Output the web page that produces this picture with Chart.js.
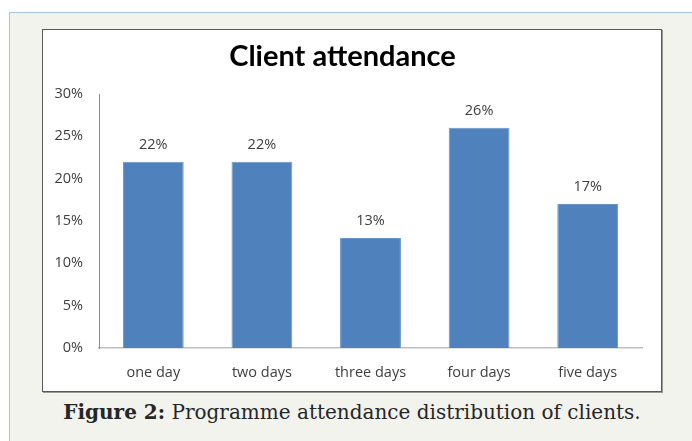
<!DOCTYPE html>
<html>
<head>
<meta charset="utf-8">
<script src="https://cdn.jsdelivr.net/npm/chart.js@4"></script>
<style>
  html, body { margin: 0; padding: 0; background: #fff; }
  body { width: 692px; height: 441px; position: relative; overflow: hidden; }
  .panel {
    position: absolute; left: 9px; top: 12px; width: 690px; height: 440px;
    background: #f3f3ee; border: 1px solid #a9c3e4;
  }
  .chart-box {
    position: absolute; left: 42px; top: 29px; width: 618px; height: 361px;
    background: #fff; border: 1px solid #5a5a5a; box-shadow: 1px 1px 0 #9a9a9a;
  }
  .caption {
    position: absolute; left: 0; width: 704px; top: 400px; text-align: center;
    font-family: "DejaVu Serif", serif; font-size: 20px; color: #262626;
  }
  .caption b { font-weight: bold; }
</style>
</head>
<body>
<div class="panel"></div>
<div class="chart-box"><canvas id="attendance-chart" width="618" height="361"></canvas></div>
<div class="caption"><b>Figure 2:</b> Programme attendance distribution of clients.</div>

<script>
/* ---- data ---- */
const categories = ['one day', 'two days', 'three days', 'four days', 'five days'];
const attendance = [22, 22, 13, 26, 17];
const yTicks = [0, 5, 10, 15, 20, 25, 30];

const labelFont = { family: '"Open Sans", sans-serif', size: 14.5 };

// value labels above each bar
const barLabels = {
  id: 'barLabels',
  afterDatasetsDraw(chart) {
    const { ctx } = chart;
    const meta = chart.getDatasetMeta(0);
    ctx.save();
    ctx.font = '14.5px "Open Sans", sans-serif';
    ctx.fillStyle = '#404040';
    ctx.textAlign = 'center';
    ctx.textBaseline = 'middle';
    meta.data.forEach((bar, i) => {
      ctx.fillText(attendance[i] + '%', bar.x, bar.y - 17);
    });
    ctx.restore();
  }
};

new Chart(document.getElementById('attendance-chart'), {
  type: 'bar',
  data: {
    labels: categories,
    datasets: [{
      data: attendance,
      backgroundColor: '#4f81bd',
      borderColor: '#6b95c9',
      borderWidth: 1,
      categoryPercentage: 1,
      barPercentage: 0.56
    }]
  },
  options: {
    responsive: false,
    animation: false,
    layout: { padding: { left: 0, right: 19, top: 0, bottom: 0 } },
    plugins: {
      legend: { display: false },
      tooltip: { enabled: false },
      title: {
        display: true,
        text: 'Client attendance',
        color: '#000',
        font: { family: 'Lato, "Open Sans", sans-serif', size: 29, weight: 'bold', lineHeight: 1.2 },
        padding: { top: 9.6, bottom: 19.6 }
      }
    },
    scales: {
      x: {
        grid: { display: false, drawTicks: false },
        border: { display: true, color: '#bfbfbf', width: 1.5 },
        ticks: { color: '#404040', font: labelFont, padding: 16, maxRotation: 0 },
        afterFit: s => { s.height = 43; }
      },
      y: {
        min: 0,
        max: 30,
        afterBuildTicks: s => { s.ticks = yTicks.map(v => ({ value: v })); },
        grid: { display: false, drawTicks: false },
        border: { display: true, color: '#8c8c8c', width: 1 },
        ticks: {
          color: '#404040',
          font: labelFont,
          padding: 16,
          callback: v => v + '%'
        },
        afterFit: s => { s.width = 56; }
      }
    }
  },
  plugins: [barLabels]
});
</script>
</body>
</html>
